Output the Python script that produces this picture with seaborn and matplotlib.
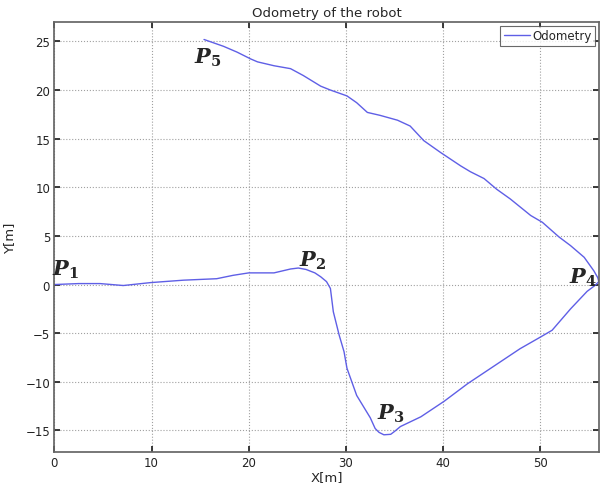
import pandas as pd
import seaborn as sns
import matplotlib.pyplot as plt

sns.set_theme(style="ticks", font="DejaVu Sans")
plt.rcParams["mathtext.fontset"] = "custom"
plt.rcParams["mathtext.it"] = "DejaVu Serif:italic:bold"
plt.rcParams["mathtext.bf"] = "DejaVu Serif:bold"

# trajectory (x, y in metres), in driving order
xs = [0.0, 2.5, 4.7, 7.1, 9.9, 13.3, 16.7, 18.4, 20.0, 22.6, 24.3, 25.1,
      25.9, 26.8, 27.4, 28.0, 28.4, 28.7, 29.3, 29.8, 30.1, 31.1, 32.5, 33.0,
      33.4, 33.9, 34.6, 35.0, 35.6, 37.7, 40.1, 42.5, 45.2, 47.9, 50.0, 51.2,
      53.1, 54.8, 55.6, 56.0, 55.9, 55.5, 54.5, 53.1, 51.9, 50.2, 49.0, 46.9,
      45.5, 44.2, 42.8, 41.8, 39.7, 38.0, 36.6, 35.3, 33.5, 32.2, 31.1, 30.1,
      28.4, 27.4, 25.6, 24.3, 22.6, 20.9, 20.2, 18.8, 17.4, 15.4]
ys = [0.0, 0.1, 0.1, -0.1, 0.2, 0.45, 0.6, 0.95, 1.2, 1.2, 1.6, 1.7,
      1.55, 1.2, 0.8, 0.3, -0.4, -2.8, -5.2, -6.9, -8.6, -11.4, -13.7, -14.8,
      -15.2, -15.45, -15.4, -15.1, -14.6, -13.6, -12.0, -10.2, -8.4, -6.6, -5.4, -4.7,
      -2.5, -0.7, -0.1, 0.3, 0.7, 1.4, 2.8, 4.0, 4.9, 6.4, 7.1, 8.8,
      9.8, 10.9, 11.6, 12.2, 13.6, 14.8, 16.3, 16.9, 17.4, 17.7, 18.7, 19.4,
      20.0, 20.4, 21.5, 22.2, 22.5, 22.9, 23.2, 23.9, 24.5, 25.2]

point_names = ["1", "2", "3", "4", "5"]
point_x = [1.1, 26.6, 34.6, 54.4, 15.8]
point_y = [1.6, 2.5, -13.2, 0.8, 23.4]

df = pd.DataFrame({"x": xs, "y": ys})

fig, ax = plt.subplots(figsize=(6.03, 4.89), dpi=100)
fig.subplots_adjust(left=0.09, right=0.993, top=0.953, bottom=0.074)

sns.lineplot(ax=ax, data=df, x="x", y="y", sort=False, estimator=None,
             color="#5f5fe6", linewidth=1.0, label="Odometry")

for name, px, py in zip(point_names, point_x, point_y):
    ax.text(px, py, r"$\mathit{P}_{\mathbf{%s}}$" % name,
            ha="center", va="center", fontsize=15)

ax.set_xlim(0, 56)
ax.set_ylim(-17.2, 27)
ax.set_xticks(range(0, 51, 10))
ax.set_yticks(range(-15, 26, 5))
ax.grid(True, linestyle=":", color="#a0a0a0", linewidth=0.8)
ax.tick_params(direction="in", labelsize=8.5, length=4, pad=3, top=True,
               right=True, labeltop=False, labelright=False, colors="#222222")
for s in ax.spines.values():
    s.set_color("#666666")
ax.set_xlabel("X[m]", fontsize=9.5, labelpad=1)
ax.set_ylabel("Y[m]", fontsize=9.5, labelpad=7)
ax.set_title("Odometry of the robot", fontsize=9.5, pad=4)
leg = ax.legend(loc="upper right", fontsize=8.5, handlelength=2.2,
                fancybox=False, borderaxespad=0.3, borderpad=0.3,
                handletextpad=0.2)
leg.get_frame().set_edgecolor("#444444")
leg.get_frame().set_linewidth(0.8)

fig.savefig("out.png", dpi=100)
